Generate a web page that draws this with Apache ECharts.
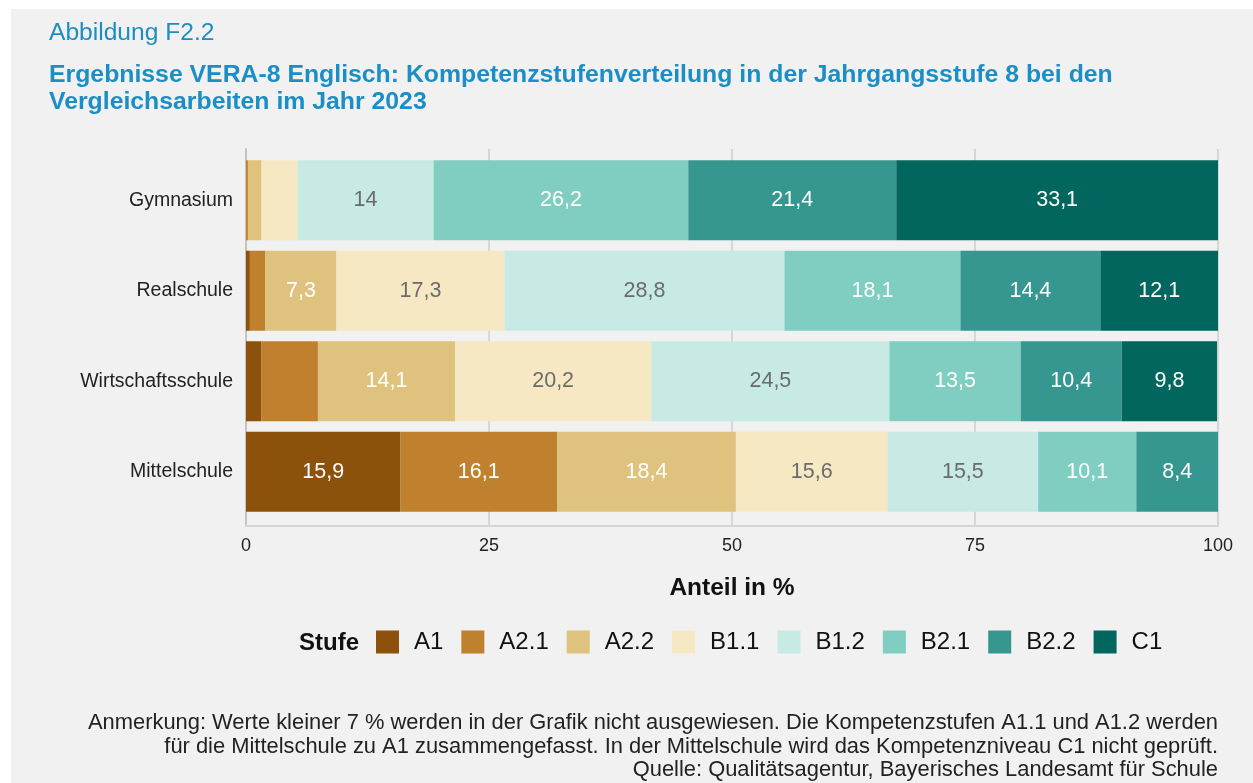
<!DOCTYPE html>
<html>
<head>
<meta charset="utf-8">
<script src="https://cdn.jsdelivr.net/npm/echarts@6/dist/echarts.min.js"></script>
<style>
  html, body { margin: 0; padding: 0; background: #fff; }
  #chart { width: 1253px; height: 783px; }
</style>
</head>
<body>
<div id="chart"></div>
<script>
// Schularten (von oben nach unten)
const schools = ["Gymnasium", "Realschule", "Wirtschaftsschule", "Mittelschule"];
const levels = ["A1", "A2.1", "A2.2", "B1.1", "B1.2", "B2.1", "B2.2", "C1"];

// Anteile in % je Kompetenzstufe
const a1 = [0.0, 0.4, 1.6, 15.9];
const a21 = [0.2, 1.6, 5.8, 16.1];
const a22 = [1.4, 7.3, 14.1, 18.4];
const b11 = [3.7, 17.3, 20.2, 15.6];
const b12 = [14, 28.8, 24.5, 15.5];
const b21 = [26.2, 18.1, 13.5, 10.1];
const b22 = [21.4, 14.4, 10.4, 8.4];
const c1 = [33.1, 12.1, 9.8, null]; // Mittelschule: C1 nicht geprüft

const xTicks = [0, 25, 50, 75, 100];

const notes = [
  "Anmerkung: Werte kleiner 7 % werden in der Grafik nicht ausgewiesen. Die Kompetenzstufen A1.1 und A1.2 werden",
  "für die Mittelschule zu A1 zusammengefasst. In der Mittelschule wird das Kompetenzniveau C1 nicht geprüft.",
  "Quelle: Qualitätsagentur, Bayerisches Landesamt für Schule"
];

const colors = ["#8c510a", "#bf812d", "#dfc27d", "#f6e8c3", "#c7eae5", "#80cdc1", "#35978f", "#01665e"];
const labelColors = ["#fff", "#fff", "#fff", "#6b6b6b", "#6b6b6b", "#fff", "#fff", "#fff"];
const values = [a1, a21, a22, b11, b12, b21, b22, c1];

const font = "Liberation Sans, Arial, sans-serif";

const series = levels.map((name, i) => ({
  name: name,
  type: "bar",
  stack: "total",
  xAxisIndex: 0,
  yAxisIndex: 0,
  barWidth: 80,
  itemStyle: { color: colors[i] },
  label: {
    show: true,
    position: "inside",
    color: labelColors[i],
    fontFamily: font,
    fontSize: 21.5,
    formatter: p => (p.value != null && p.value >= 7) ? String(p.value).replace(".", ",") : ""
  },
  data: values[i]
}));

const noteText = notes.map((t, i) => ({
  type: "text", right: 35, top: 712 + i * 23.5,
  style: { text: t, fill: "#222", font: "21.9px " + font }
}));

const chart = echarts.init(document.getElementById("chart"));
chart.setOption({
  animation: false,
  textStyle: { fontFamily: font },
  color: colors,
  graphic: [
    { type: "rect", z: -10, shape: { x: 11, y: 9, width: 1242, height: 774 }, style: { fill: "#f1f1f1" } },
    { type: "text", left: 49, top: 21, style: { text: "Abbildung F2.2", fill: "#1b8ec6", font: "24.6px " + font } },
    { type: "text", left: 49, top: 62, style: { text: "Ergebnisse VERA-8 Englisch: Kompetenzstufenverteilung in der Jahrgangsstufe 8 bei den\nVergleichsarbeiten im Jahr 2023", fill: "#1b8ec6", font: "bold 24.8px " + font, lineHeight: 26.5 } },
    { type: "text", left: 299, top: 631, style: { text: "Stufe", fill: "#111", font: "bold 24px " + font } }
  ].concat(noteText),
  legend: {
    left: 376,
    top: 630,
    padding: 0,
    icon: "rect",
    itemWidth: 23,
    itemHeight: 23,
    itemGap: 18,
    textStyle: { fontSize: 24, color: "#111", padding: [0, 0, 0, 10] },
    data: levels
  },
  grid: [
    { left: 246, right: 35, top: 155, height: 362 },
    { left: 246, right: 35, top: 149, bottom: 257 }
  ],
  xAxis: [
    { gridIndex: 0, type: "value", min: 0, max: 100, show: false },
    {
      gridIndex: 1, type: "value", min: xTicks[0], max: xTicks[xTicks.length - 1], interval: 25,
      axisLine: { show: true, lineStyle: { color: "#d6d6d6", width: 2 } },
      axisTick: { show: false },
      splitLine: { show: true, lineStyle: { color: "#d6d6d6", width: 2 } },
      axisLabel: { color: "#222", fontSize: 18, margin: 11 },
      name: "Anteil in %",
      nameLocation: "middle",
      nameGap: 50,
      nameTextStyle: { color: "#111", fontSize: 24.5, fontWeight: "bold" }
    }
  ],
  yAxis: [
    {
      gridIndex: 0, type: "category", inverse: true, data: schools,
      axisLine: { show: false }, axisTick: { show: false },
      axisLabel: { color: "#222", fontSize: 19.5, margin: 13 }
    },
    {
      gridIndex: 1, type: "value", min: 0, max: 1,
      axisLine: { show: true, lineStyle: { color: "#c4c4c4", width: 2 } },
      axisTick: { show: false }, axisLabel: { show: false }, splitLine: { show: false }
    }
  ],
  series: series
});
</script>
</body>
</html>
